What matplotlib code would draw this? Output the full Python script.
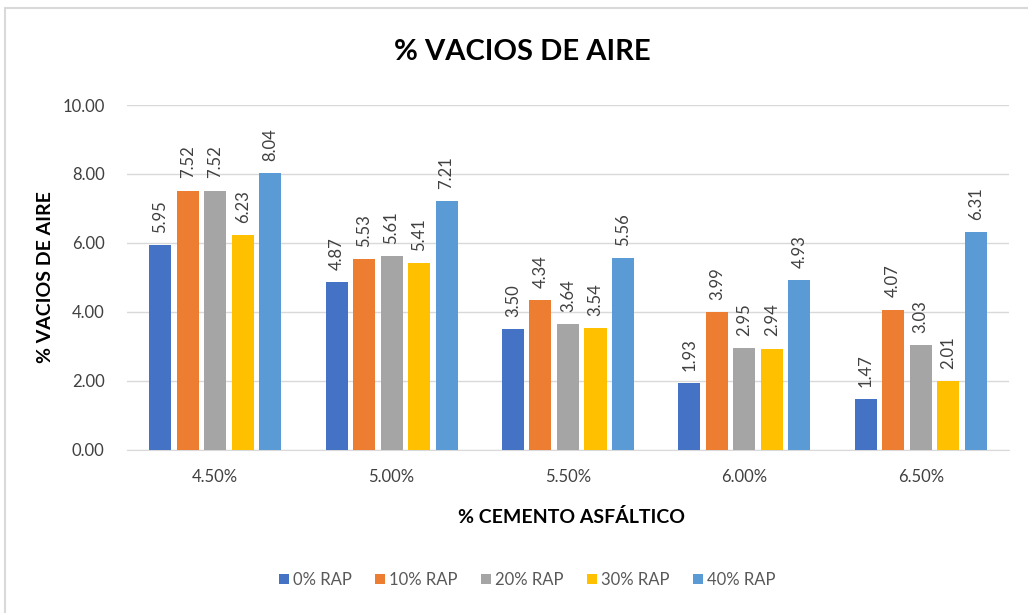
import numpy as np
import matplotlib.pyplot as plt
from matplotlib.patches import Rectangle

categories = ["4.50%", "5.00%", "5.50%", "6.00%", "6.50%"]
series_names = ["0% RAP", "10% RAP", "20% RAP", "30% RAP", "40% RAP"]
rap_0 = [5.95, 4.87, 3.50, 1.93, 1.47]
rap_10 = [7.52, 5.53, 4.34, 3.99, 4.07]
rap_20 = [7.52, 5.61, 3.64, 2.95, 3.03]
rap_30 = [6.23, 5.41, 3.54, 2.94, 2.01]
rap_40 = [8.04, 7.21, 5.56, 4.93, 6.31]
colors = ["#4472C4", "#ED7D31", "#A5A5A5", "#FFC000", "#5B9BD5"]

plt.rcParams['font.family'] = ['Lato', 'DejaVu Sans']

fig = plt.figure(figsize=(10.28, 6.13), dpi=100)
ax = fig.add_axes([0.1235, 0.266, 0.858, 0.5627])

# marco del grafico
fig.patches.append(Rectangle((0.005, -0.02), 1.1, 1 - 8 / 613 + 0.02,
                             transform=fig.transFigure, fill=False,
                             edgecolor="#D9D9D9", linewidth=1.5))

x = np.arange(len(categories))
pitch = 0.156
width = 0.125
all_series = [rap_0, rap_10, rap_20, rap_30, rap_40]
for i, (vals, name, c) in enumerate(zip(all_series, series_names, colors)):
    pos = x + (i - 2) * pitch
    bars = ax.bar(pos, vals, width, color=c, label=name, zorder=3)
    for b, v in zip(bars, vals):
        ax.text(b.get_x() + b.get_width() / 2, v + 0.35, f"{v:.2f}",
                rotation=90, ha="center", va="bottom", fontsize=12,
                color="#404040")

ax.set_xlim(-0.5, len(categories) - 0.5)
ax.set_ylim(0, 10)
ax.set_yticks(np.arange(0, 10.1, 2))
ax.set_yticklabels([f"{t:.2f}" for t in np.arange(0, 10.1, 2)])
ax.set_xticks(x)
ax.set_xticklabels(categories)
ax.tick_params(axis="both", length=0, labelsize=12, labelcolor="#404040")
ax.tick_params(axis="y", pad=16)
ax.tick_params(axis="x", pad=14)
ax.grid(axis="y", color="#D9D9D9", linewidth=1, zorder=0)
for s in ["top", "right", "left"]:
    ax.spines[s].set_visible(False)
ax.spines["bottom"].set_color("#D9D9D9")

fig.text(0.508, 0.915, "% VACIOS DE AIRE", ha="center", va="center",
         fontsize=21, fontweight="bold")
fig.text(0.044, 0.548, "% VACIOS DE AIRE", rotation=90, ha="center", va="center",
         fontsize=14, fontweight="bold", color="#000000")
fig.text(0.556, 0.157, "% CEMENTO ASFÁLTICO", ha="center", va="center",
         fontsize=14, fontweight="bold", color="#000000")

fig.legend(loc="center", bbox_to_anchor=(0.513, 0.054), ncol=5, frameon=False,
           fontsize=12, labelcolor="#595959", handlelength=0.6, handleheight=0.6,
           handletextpad=0.25, columnspacing=1.4)

fig.savefig("out.png", dpi=100)
